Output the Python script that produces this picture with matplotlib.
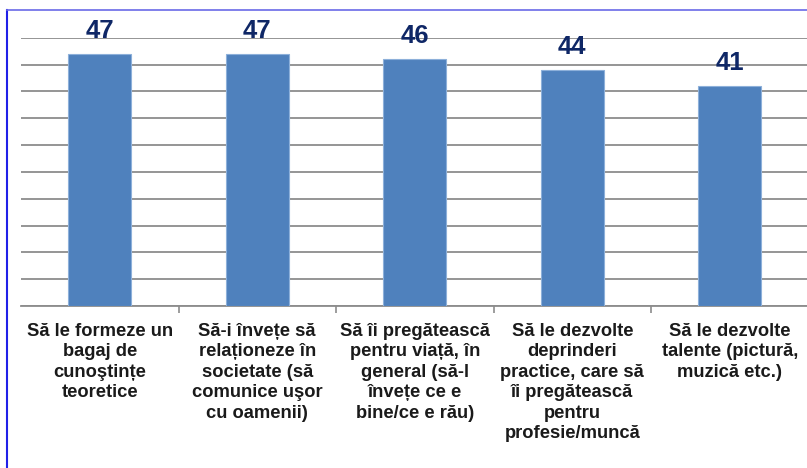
import matplotlib
matplotlib.use("Agg")
import matplotlib.pyplot as plt
from matplotlib.lines import Line2D

categories = [
    "Să le formeze un\nbagaj de\ncunoştințe\nteoretice",
    "Să-i învețe să\nrelaționeze în\nsocietate (să\ncomunice uşor\ncu oamenii)",
    "Să îi pregătească\npentru viață, în\ngeneral (să-l\nînvețe ce e\nbine/ce e rău)",
    "Să le dezvolte\ndeprinderi\npractice, care să\nîi pregătească\npentru\nprofesie/muncă",
    "Să le dezvolte\ntalente (pictură,\nmuzică etc.)",
]
values = [47, 47, 46, 44, 41]
y_ticks = [0, 5, 10, 15, 20, 25, 30, 35, 40, 45, 50]

plt.rcParams['font.family'] = ['Liberation Sans', 'DejaVu Sans']

W, H = 807, 468
fig = plt.figure(figsize=(W / 100, H / 100), dpi=100)
fig.patch.set_facecolor('white')

left_px, right_px = 21, 808.5
bottom_px, top_px = 306, 37.7
ax = fig.add_axes([left_px / W, (H - bottom_px) / H,
                   (right_px - left_px) / W, (bottom_px - top_px) / H])
ax.set_facecolor('none')

x = list(range(len(values)))
bars = ax.bar(x, values, width=0.4, color='#4F81BD', edgecolor='#8DB0DA',
              linewidth=0.8, zorder=3)
ax.set_xlim(-0.5, len(values) - 0.5)
ax.set_ylim(0, 50)

ax.set_yticks(y_ticks)
ax.yaxis.grid(True, color='#8C8C8C', linewidth=1.3, zorder=0)
ax.tick_params(axis='y', length=0, labelleft=False)

ax.set_xticks(x)
ax.set_xticklabels(categories, fontsize=13.2, fontweight='bold',
                   color='#1A1A1A', linespacing=1.27)
ax.tick_params(axis='x', which='major', length=0, pad=12)
ax.set_xticks([i + 0.5 for i in range(len(values) - 1)], minor=True)
ax.tick_params(axis='x', which='minor', length=5, width=1.2, color='#8C8C8C')

for s in ['top', 'right', 'left']:
    ax.spines[s].set_visible(False)
ax.spines['bottom'].set_color('#8C8C8C')
ax.spines['bottom'].set_linewidth(1.3)

for xi, v in zip(x, values):
    ax.annotate(str(v), (xi, v), xytext=(0, 8), textcoords='offset points',
                ha='center', va='bottom', fontsize=18.5, fontweight='bold',
                color='#0F2766', clip_on=False, zorder=4)

# outer frame (left and top edges visible)
fig.add_artist(Line2D([7.3 / W, 7.3 / W], [0, (H - 10) / H], transform=fig.transFigure,
                      color='#2020E8', linewidth=1.5))
fig.add_artist(Line2D([7.3 / W, 1], [(H - 10) / H, (H - 10) / H], transform=fig.transFigure,
                      color='#6A6AE8', linewidth=1.2))

fig.savefig('out.png', dpi=100)
